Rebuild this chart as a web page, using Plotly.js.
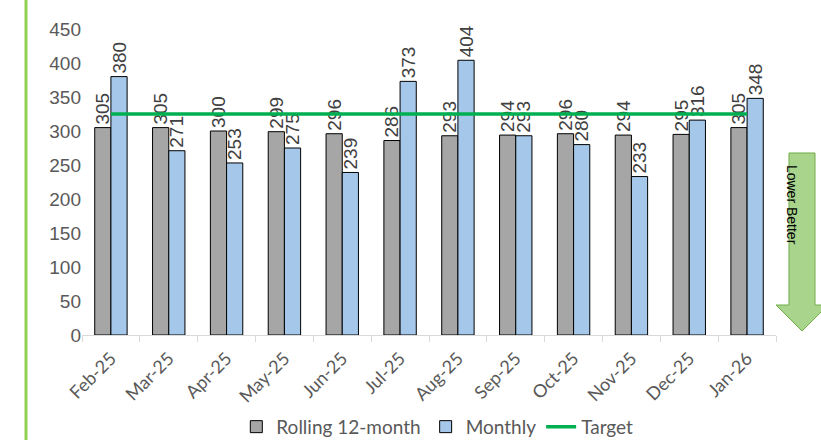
<!DOCTYPE html>
<html><head><meta charset="utf-8">
<script src="https://cdn.plot.ly/plotly-3.0.1.min.js"></script>
<style>html,body{margin:0;padding:0;background:#fff}#chart{width:821px;height:444px}</style>
</head><body><div id="chart"></div>
<script>
const categories = ['Feb-25','Mar-25','Apr-25','May-25','Jun-25','Jul-25','Aug-25','Sep-25','Oct-25','Nov-25','Dec-25','Jan-26'];
const rolling = [305,305,300,299,296,286,293,294,296,294,295,305];
const monthly = [380,271,253,275,239,373,404,293,280,233,316,348];
const targetValue = 325;
const target = categories.map(() => targetValue);

const labelFont = {family:'Liberation Sans, Arial, sans-serif', size:19, color:'#404040'};

const traces = [
  {type:'bar', name:'Rolling 12-month', x:categories, y:rolling,
   marker:{color:'#a6a6a6', line:{color:'#000000', width:1}},
   text:rolling.map(String), textposition:'outside', textangle:-90, constraintext:'none',
   textfont:labelFont, cliponaxis:false},
  {type:'bar', name:'Monthly', x:categories, y:monthly,
   marker:{color:'#a5c8ea', line:{color:'#000000', width:1}},
   text:monthly.map(String), textposition:'outside', textangle:-90, constraintext:'none',
   textfont:labelFont, cliponaxis:false},
  {type:'scatter', mode:'lines', name:'Target', x:categories, y:target,
   line:{color:'#00b050', width:3.5}}
];

const layout = {
  width:821, height:444,
  margin:{l:82, r:45, t:29, b:109, autoexpand:false},
  paper_bgcolor:'#ffffff', plot_bgcolor:'#ffffff',
  barmode:'group', bargap:0.44, bargroupgap:0,
  font:{family:'Liberation Sans, Arial, sans-serif', color:'#595959'},
  showlegend:true,
  legend:{orientation:'h', x:0.512, xanchor:'center', y:-0.30, yanchor:'middle',
          font:{family:'Lato, sans-serif', size:19, color:'#595959'}, traceorder:'normal'},
  xaxis:{type:'category', tickangle:-45, automargin:false, ticklabelstandoff:5,
         tickfont:{size:18, color:'#595959', family:'Lato, sans-serif'},
         showline:true, linecolor:'#d9d9d9', linewidth:1, ticks:'outside', tickson:'boundaries',
         ticklen:6, tickcolor:'#d9d9d9', showgrid:false, zeroline:false},
  yaxis:{range:[0,450], dtick:50, showgrid:false, zeroline:false, showline:false, automargin:false,
         tickfont:{size:19, color:'#595959'}, ticks:'', ticklabelstandoff:0},
  shapes:[
    {type:'line', xref:'paper', yref:'paper', x0:-0.0807, x1:-0.0807, y0:-0.343, y1:1.1,
     line:{color:'#92d050', width:3}},
    {type:'path', xref:'paper', yref:'paper',
     path:'M 1.0187 0.5948 L 1.0562 0.5948 L 1.0562 0.098 L 1.075 0.098 L 1.0375 0.0131 L 1.0 0.098 L 1.0187 0.098 Z',
     fillcolor:'#a9d48c', line:{color:'#70ad47', width:1}}
  ],
  annotations:[
    {xref:'paper', yref:'paper', x:1.0375, y:0.425, text:'Lower Better', showarrow:false,
     textangle:90, font:{family:'Liberation Sans, Arial, sans-serif', size:14, color:'#000000'}}
  ]
};

Plotly.newPlot('chart', traces, layout, {displayModeBar:false, staticPlot:true});
</script></body></html>
